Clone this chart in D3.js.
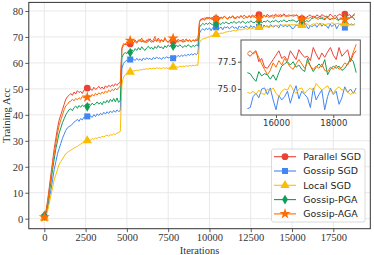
<!DOCTYPE html>
<html>
<head>
<meta charset="utf-8">
<script src="https://cdn.jsdelivr.net/npm/d3@7/dist/d3.min.js"></script>
<style>
  body { margin: 0; background: #fff; }
  svg { display: block; }
</style>
</head>
<body>
<svg id="chart" width="374" height="255"></svg>
<script>
// iteration grid of the logged points (every 100 iterations)
const iterations = d3.range(0, 18801, 100);

const parallelSGD = [
  0.8, 3, 7, 12, 17, 22, 27, 31, 35, 38, 40, 42, 44, 46, 47, 47.5,
  48.2, 47.5, 48.8, 48.0, 49.3, 48.6, 49.0, 48.2, 49.5, 49.8, 50.3, 49.2, 50.0, 49.4, 50.6, 49.8,
  50.2, 51.0, 50.1, 50.7, 49.9, 51.2, 50.5, 51.4, 50.8, 51.6, 51.0, 52.0, 51.3, 52.2, 52.5,
  65.5, 66.8, 67.5, 66.9, 68.0, 67.3, 68.4, 67.6, 68.8, 67.9, 68.3, 69.1, 68.0, 68.7, 67.8, 68.9,
  68.2, 69.3, 68.4, 68.0, 69.0, 68.3, 69.5, 68.5, 68.9, 68.1, 69.2, 68.6, 67.9, 68.8, 69.4, 68.2,
  68.7, 68.0, 69.1, 68.4, 68.8, 67.9, 68.6, 69.2, 68.3, 68.7, 68.1, 68.9, 68.4, 68.6, 68.8,
  75.8, 76.6, 77.2, 76.4, 77.5, 76.9, 77.6, 76.8, 77.3, 77.9, 77.0, 77.5, 76.8, 77.7, 77.2, 78.0,
  77.4, 76.9, 77.8, 77.3, 78.1, 77.5, 77.0, 77.9, 77.4, 78.2, 77.6, 78.4, 77.8, 77.3, 78.1, 77.6,
  78.5, 77.9, 78.3, 77.5, 78.6, 78.0, 77.6, 78.4, 77.9, 78.7, 78.1, 77.7, 78.5, 78.0, 78.8, 78.2,
  77.8, 78.6, 78.1, 78.9, 78.3, 77.9, 78.5, 78.2,
  78.2, 78.0, 78.3, 78.5, 77.5, 77.8, 77.0, 76.9, 77.3, 77.7, 78.1, 78.5, 77.8, 78.0, 77.6, 78.5,
  78.1, 77.7, 78.6, 78.2, 77.9, 78.0, 77.6, 78.8, 78.2, 77.7, 78.3, 77.9, 78.4, 78.8, 78.1, 77.7,
  78.8, 78.0, 78.3, 78.6, 77.5, 78.2, 78.5
];

const gossipSGD = [
  0.5, 1.5, 4, 8, 11, 15, 19, 22, 25, 27, 29, 31, 32.5, 34, 35, 35.5,
  35.8, 36.5, 37.2, 37.6, 38.3, 37.5, 38.6, 38.0, 39.1, 38.4, 39.4, 38.7, 39.6, 39.0, 40.1, 39.3,
  40.4, 39.7, 40.6, 40.0, 41.0, 40.3, 41.2, 40.5, 41.5, 40.8, 41.7, 41.0, 41.9, 41.3, 41.6,
  58.0, 59.8, 60.6, 61.0, 60.4, 61.3, 60.7, 61.5, 60.9, 61.8, 61.0, 61.6, 60.8, 61.9, 61.2, 62.0,
  61.4, 61.8, 61.1, 62.1, 61.5, 62.3, 61.6, 62.0, 61.3, 62.2, 61.7, 62.4, 61.9, 62.1, 62.6, 61.8,
  62.7, 62.2, 62.9, 62.4, 63.0, 62.5, 63.2, 62.7, 63.3, 62.9, 63.5, 63.0, 63.6, 63.2, 63.7,
  71.5, 72.6, 73.2, 72.5, 73.4, 72.8, 73.5, 72.4, 73.6, 73.0, 73.7, 72.9, 73.3, 73.8, 72.7, 73.9,
  73.4, 74.0, 73.1, 73.7, 74.1, 73.3, 73.8, 72.9, 74.2, 73.6, 74.0, 73.4, 74.3, 73.8, 73.2, 74.4,
  73.7, 74.1, 73.5, 74.5, 73.9, 74.2, 73.3, 74.6, 74.0, 74.3, 73.6, 74.7, 74.1, 73.8, 74.5, 74.2,
  73.5, 74.8, 74.3, 74.0, 74.6, 73.9, 74.4, 74.2,
  73.2, 73.3, 74.3, 74.6, 74.2, 75.0, 75.1, 74.5, 75.1, 74.0, 73.1, 74.4, 74.0, 74.3, 74.8, 73.7,
  74.6, 75.3, 74.1, 74.8, 74.5, 74.2, 73.3, 75.1, 74.0, 74.5, 74.9, 73.1, 74.3, 75.1, 74.5, 74.8,
  73.6, 74.2, 75.2, 74.7, 75.0, 74.6, 75.1
];

const localSGD = [
  0.3, 1, 3, 6, 9, 12, 15, 17, 19, 21, 22, 23, 24, 25, 25.5, 26,
  26.4, 26.8, 27.2, 27.5, 27.8, 28.3, 28.7, 29.2, 29.5, 29.9, 30.1, 30.4, 30.3, 30.8, 30.6, 31.1,
  30.9, 31.4, 31.2, 31.7, 31.5, 31.9, 32.2, 31.8, 32.4, 32.1, 32.7, 32.4, 33.0, 33.2, 33.6,
  52.0, 54.6, 55.4, 55.9, 56.3, 56.5, 56.7, 56.9, 57.0, 57.2, 57.1, 57.4, 57.3, 57.6, 57.5, 57.8,
  57.6, 57.9, 57.7, 58.0, 57.8, 58.1, 57.9, 58.0, 57.7, 58.2, 57.9, 58.1, 57.8, 58.3, 58.0, 58.4,
  58.2, 58.5, 58.3, 58.7, 58.5, 58.8, 58.6, 58.9, 58.7, 59.0, 58.8, 59.1, 58.9, 59.2, 59.0,
  67.8, 68.8, 69.2, 69.4, 69.6, 69.9, 70.1, 70.4, 70.6, 70.8, 71.0, 71.1, 71.3, 71.5, 71.4, 71.7,
  71.9, 72.0, 72.2, 72.1, 72.4, 72.5, 72.3, 72.6, 72.8, 72.7, 72.9, 73.0, 73.2, 72.9, 73.3, 73.4,
  73.2, 73.5, 73.6, 73.4, 73.7, 73.8, 73.6, 73.9, 74.0, 73.8, 74.1, 74.2, 74.0, 74.3, 74.4, 74.2,
  74.5, 74.4, 74.6, 74.5, 74.7, 74.5, 74.8, 74.6,
  74.7, 74.6, 74.8, 74.5, 74.9, 74.6, 74.5, 75.0, 74.9, 75.1, 74.6, 74.3, 74.8, 75.0, 74.9, 75.4,
  74.9, 74.6, 75.0, 75.1, 74.6, 74.9, 75.1, 74.8, 75.5, 75.2, 74.9, 75.1, 75.3, 74.8, 74.6, 75.0,
  75.2, 74.9, 75.0, 74.7, 74.5, 74.7, 74.6
];

const gossipPGA = [
  1.2, 2.5, 5.5, 10, 14, 19, 23, 27, 30, 33, 35, 37, 38.5, 40, 41, 42,
  42.3, 41.6, 42.8, 43.4, 42.5, 43.6, 42.9, 43.8, 43.2, 44.0, 43.1, 44.3, 43.6, 44.5, 43.8, 44.2,
  45.0, 44.1, 44.8, 43.9, 45.2, 44.5, 45.6, 44.7, 46.0, 45.1, 46.3, 45.0, 46.5, 44.8, 45.6,
  62.0, 63.5, 64.0, 63.6, 64.6, 64.0, 65.1, 64.4, 65.5, 64.8, 65.9, 65.0, 66.2, 65.3, 64.8, 65.8,
  66.4, 65.5, 66.0, 65.2, 66.3, 65.6, 66.7, 65.8, 66.2, 65.4, 66.6, 65.9, 66.9, 66.3, 67.1, 66.5,
  65.8, 66.8, 66.2, 67.0, 66.4, 65.9, 66.7, 66.2, 67.0, 66.5, 66.0, 66.8, 66.3, 66.9, 66.6,
  73.8, 74.6, 75.2, 74.7, 75.3, 74.8, 75.5, 75.0, 74.6, 75.4, 75.0, 75.7, 75.1, 74.8, 75.6, 75.2,
  75.8, 75.3, 75.0, 75.7, 75.4, 76.0, 75.2, 75.6, 75.9, 75.3, 76.1, 75.6, 75.2, 75.9, 75.5, 76.2,
  75.7, 75.4, 76.0, 75.6, 76.3, 75.8, 75.5, 76.1, 75.7, 76.4, 75.9, 75.6, 76.2, 75.8, 76.5, 76.0,
  75.7, 76.3, 75.9, 76.6, 76.1, 75.8, 76.4, 76.2,
  76.5, 76.4, 76.0, 75.7, 76.6, 76.2, 76.4, 76.3, 75.9, 76.3, 75.8, 76.5, 77.1, 77.3, 77.5, 77.2,
  77.5, 77.0, 77.2, 76.8, 76.6, 77.8, 77.1, 76.6, 77.0, 77.3, 77.0, 77.7, 76.3, 76.8, 77.1, 76.9,
  77.1, 76.7, 76.9, 77.3, 77.8, 77.5, 76.5
];

const gossipAGA = [
  0.6, 2.5, 6, 11, 16, 21, 25, 29, 33, 36, 38, 40, 42, 43.5, 44, 45,
  45.2, 46.0, 45.4, 46.3, 45.8, 46.6, 46.0, 47.1, 46.4, 47.3, 46.8, 47.5, 47.0, 47.9, 47.2, 48.3,
  47.6, 48.5, 47.9, 48.8, 48.2, 49.2, 48.5, 49.5, 48.9, 49.8, 49.3, 50.2, 49.6, 50.5, 51.0,
  66.0, 67.5, 66.9, 68.2, 67.4, 68.6, 67.8, 69.0, 68.1, 67.6, 68.9, 68.2, 69.6, 68.0, 68.5, 67.7,
  69.3, 68.4, 67.9, 68.8, 70.2, 68.3, 68.7, 67.8, 69.0, 68.2, 69.8, 68.4, 68.0, 68.9, 68.3, 69.5,
  68.1, 68.6, 67.9, 68.8, 68.3, 69.2, 68.0, 68.7, 68.4, 69.0, 68.2, 68.8, 68.5, 69.3, 68.6,
  76.2, 77.0, 76.5, 77.4, 76.8, 77.7, 76.9, 77.3, 76.6, 77.5, 77.0, 77.8, 76.9, 77.4, 77.1, 78.0,
  77.2, 76.8, 77.6, 77.3, 78.1, 77.0, 77.5, 77.9, 77.2, 78.2, 77.4, 77.0, 77.8, 77.5, 78.3, 77.3,
  77.9, 77.6, 78.4, 77.5, 77.1, 78.0, 77.7, 78.5, 77.6, 78.1, 77.4, 78.3, 77.8, 77.2, 78.2, 77.9,
  78.6, 77.7, 78.0, 78.4, 77.8, 78.2, 77.9, 78.3,
  78.3, 78.5, 78.2, 78.4, 77.9, 77.3, 76.8, 76.3, 76.7, 77.4, 77.0, 77.6, 77.2, 77.8, 77.4, 77.0,
  76.8, 77.3, 77.7, 77.3, 76.9, 77.5, 77.1, 76.8, 77.1, 76.9, 77.3, 76.7, 76.6, 77.0, 76.8, 77.2,
  76.8, 77.0, 77.4, 77.2, 77.7, 78.4, 79.1
];

const seriesNames = ["Parallel SGD", "Gossip SGD", "Local SGD", "Gossip-PGA", "Gossip-AGA"];
const seriesValues = [parallelSGD, gossipSGD, localSGD, gossipPGA, gossipAGA];
const seriesColors = ["#ea4335", "#4285f4", "#fbbc04", "#0f9d58", "#ff6d01"];

const xTicks = [0, 2500, 5000, 7500, 10000, 12500, 15000, 17500];
const yTicks = [0, 10, 20, 30, 40, 50, 60, 70, 80];
const insetXTicks = [16000, 18000];
const insetYTicks = [75.0, 77.5];
const insetStart = 15000;

// thin diamond like matplotlib's "d"
const thinDiamond = {
  draw(ctx, size) {
    const h = Math.sqrt(size) * 0.72, w = h * 0.6;
    ctx.moveTo(0, -h); ctx.lineTo(w, 0); ctx.lineTo(0, h); ctx.lineTo(-w, 0); ctx.closePath();
  }
};
const markerTypes = [d3.symbolCircle, d3.symbolSquare, d3.symbolTriangle, thinDiamond, d3.symbolStar];
const markerSizes = [36, 36, 38, 46, 38];

const series = seriesNames.map((name, i) => ({
  name,
  color: seriesColors[i],
  marker: d3.symbol(markerTypes[i], markerSizes[i]),
  points: iterations.map((it, j) => ({ it, v: seriesValues[i][j], j }))
}));

const svg = d3.select("#chart");
const serif = "'Liberation Serif', 'Times New Roman', serif";
const sans = "'DejaVu Sans', sans-serif";

const x = d3.scaleLinear().domain([-940, 19740]).range([28.8, 370.3]);
const y = d3.scaleLinear().domain([-3.85, 83.3]).range([228.7, 2.4]);
const [plotLeft, plotRight] = x.range();
const [plotBottom, plotTop] = y.range();

// grid
svg.append("g").selectAll("line").data(xTicks).join("line")
  .attr("x1", d => x(d)).attr("x2", d => x(d))
  .attr("y1", plotTop).attr("y2", plotBottom)
  .attr("stroke", "#e8e8e8").attr("stroke-width", 1);
svg.append("g").selectAll("line").data(yTicks).join("line")
  .attr("y1", d => y(d)).attr("y2", d => y(d))
  .attr("x1", plotLeft).attr("x2", plotRight)
  .attr("stroke", "#e8e8e8").attr("stroke-width", 1);

// lines
const line = d3.line().x(d => x(d.it)).y(d => y(d.v));
const main = svg.append("g");
series.forEach(s => {
  main.append("path").datum(s.points)
    .attr("fill", "none").attr("stroke", s.color).attr("stroke-width", 1)
    .attr("stroke-linejoin", "round").attr("d", line);
});
series.forEach(s => {
  main.append("g").selectAll("path")
    .data(s.points.filter(p => p.j % 26 === 0)).join("path")
    .attr("transform", p => `translate(${x(p.it)},${y(p.v)})`)
    .attr("d", s.marker).attr("fill", s.color);
});

// axes
const xAxis = svg.append("g").attr("transform", `translate(0,${plotBottom})`)
  .call(d3.axisBottom(x).tickValues(xTicks).tickSize(3.5).tickPadding(1.5).tickFormat(d3.format("d")));
const yAxis = svg.append("g").attr("transform", `translate(${plotLeft},0)`)
  .call(d3.axisLeft(y).tickValues(yTicks).tickSize(3.5).tickPadding(2));
[xAxis, yAxis].forEach(a => {
  a.select(".domain").remove();
  a.selectAll("line").attr("stroke", "#333").attr("stroke-width", 0.8);
  a.selectAll("text").attr("font-family", serif).attr("font-size", 10.5).attr("fill", "#333");
});
svg.append("rect").attr("x", plotLeft).attr("y", plotTop)
  .attr("width", plotRight - plotLeft).attr("height", plotBottom - plotTop)
  .attr("fill", "none").attr("stroke", "#333").attr("stroke-width", 1);

svg.append("text").attr("x", (plotLeft + plotRight) / 2).attr("y", 253.5)
  .attr("text-anchor", "middle").attr("font-family", serif).attr("font-size", 10.5)
  .attr("fill", "#333").text("Iterations");
svg.append("text").attr("transform", `translate(10,${(plotTop + plotBottom) / 2}) rotate(-90)`)
  .attr("text-anchor", "middle").attr("font-family", serif).attr("font-size", 10.5)
  .attr("fill", "#333").text("Training Acc");

// inset
const ix = d3.scaleLinear().domain([14778, 18942]).range([241, 360.3]);
const iy = d3.scaleLinear().domain([72.62, 79.49]).range([115, 40]);
const inset = svg.append("g");
inset.append("rect").attr("x", 241).attr("y", 40).attr("width", 119.3).attr("height", 75)
  .attr("fill", "#fff");
svg.append("clipPath").attr("id", "insetClip").append("rect")
  .attr("x", 241).attr("y", 40).attr("width", 119.3).attr("height", 75);
const iline = d3.line().x(d => ix(d.it)).y(d => iy(d.v));
const insetLines = inset.append("g").attr("clip-path", "url(#insetClip)");
series.forEach(s => {
  insetLines.append("path").datum(s.points.filter(p => p.it >= insetStart))
    .attr("fill", "none").attr("stroke", s.color).attr("stroke-width", 1)
    .attr("stroke-linejoin", "round").attr("d", iline);
});
const ixAxis = inset.append("g").attr("transform", "translate(0,115)")
  .call(d3.axisBottom(ix).tickValues(insetXTicks).tickSize(3).tickPadding(1.5).tickFormat(d3.format("d")));
const iyAxis = inset.append("g").attr("transform", "translate(241,0)")
  .call(d3.axisLeft(iy).tickValues(insetYTicks).tickSize(3).tickPadding(1.5).tickFormat(d3.format(".1f")));
[ixAxis, iyAxis].forEach(a => {
  a.select(".domain").remove();
  a.selectAll("line").attr("stroke", "#333").attr("stroke-width", 0.8);
  a.selectAll("text").attr("font-family", sans).attr("font-size", 8.5).attr("fill", "#333");
});
inset.append("rect").attr("x", 241).attr("y", 40).attr("width", 119.3).attr("height", 75)
  .attr("fill", "none").attr("stroke", "#555").attr("stroke-width", 1);

// legend
const legend = svg.append("g").attr("transform", "translate(271.5,149)");
legend.append("rect").attr("width", 93.5).attr("height", 73).attr("rx", 2)
  .attr("fill", "#fff").attr("fill-opacity", 0.85).attr("stroke", "#d0d0d0").attr("stroke-width", 0.8);
series.forEach((s, i) => {
  const g = legend.append("g").attr("transform", `translate(0,${7.7 + i * 14.3})`);
  g.append("line").attr("x1", 2.5).attr("x2", 24.5).attr("stroke", s.color).attr("stroke-width", 1.1);
  g.append("path").attr("transform", "translate(13.5,0)").attr("d", s.marker).attr("fill", s.color);
  g.append("text").attr("x", 31.8).attr("dy", "0.35em").attr("font-family", sans)
    .attr("font-size", 9.4).attr("fill", "#222").text(s.name);
});
</script>
</body>
</html>
